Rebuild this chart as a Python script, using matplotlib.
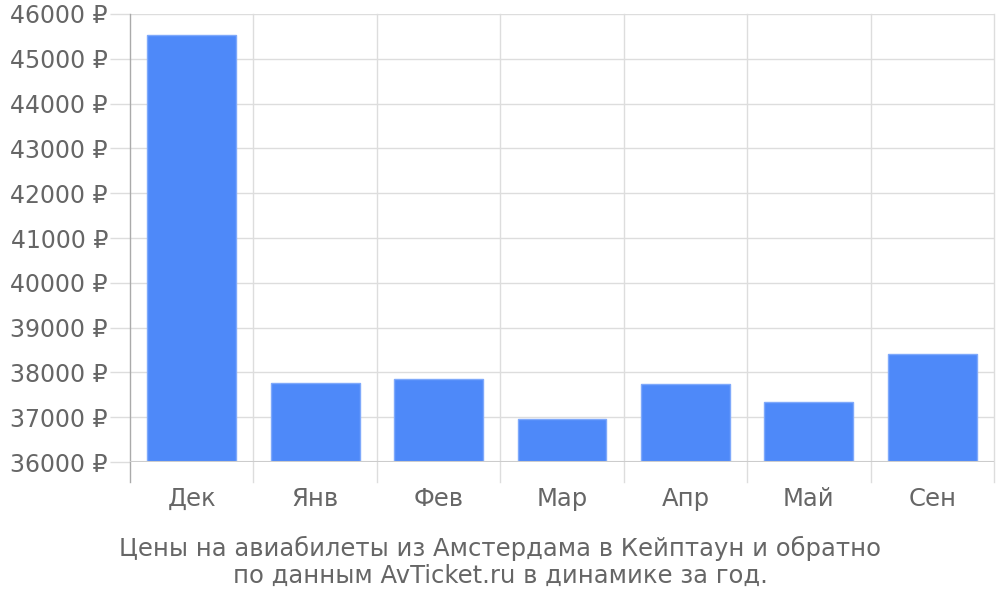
import matplotlib
matplotlib.use("Agg")
import matplotlib.pyplot as plt
import numpy as np

categories = ["Дек", "Янв", "Фев", "Мар", "Апр", "Май", "Сен"]
prices = [45530, 37763, 37858, 36956, 37740, 37330, 38412]
yticks = [36000, 37000, 38000, 39000, 40000, 41000, 42000, 43000, 44000, 45000, 46000]
title = "Цены на авиабилеты из Амстердама в Кейптаун и обратно\nпо данным AvTicket.ru в динамике за год."

plt.rcParams['font.family'] = ['DejaVu Sans']
fig = plt.figure(figsize=(10, 6), dpi=100)
ax = fig.add_axes([0.130, 1 - 462 / 600, 0.864, 448 / 600])

x = np.arange(len(categories))
ax.bar(x, prices, width=0.72, bottom=0, color="#4e89f9", edgecolor="#7fa9fb", linewidth=1, zorder=3)

ax.set_ylim(36000, 46000)
ax.set_xlim(-0.5, len(categories) - 0.5)
ax.set_yticks(yticks)
ax.set_yticklabels([f"{v} ₽" for v in yticks])
ax.set_xticks(x)
ax.set_xticklabels(categories)

ax.grid(axis="y", color="#dddddd", linewidth=1, zorder=0)
for b in np.arange(0.5, len(categories) - 0.5, 1.0):
    ax.axvline(b, ymin=-20 / 448, ymax=1, color="#dddddd", linewidth=1, clip_on=False, zorder=0)
ax.axvline(len(categories) - 0.5, ymin=-20 / 448, ymax=1, color="#dddddd", linewidth=1, clip_on=False, zorder=0)
ax.axvline(-0.5, ymin=-20 / 448, ymax=1, color="#aaaaaa", linewidth=1, clip_on=False, zorder=4)
ax.axhline(36000, color="#cccccc", linewidth=1.5, zorder=4)

for s in ax.spines.values():
    s.set_visible(False)

ax.tick_params(axis="y", length=14.4, color="#dddddd", width=1, pad=1.5, labelsize=17, labelcolor="#666666")
ax.tick_params(axis="x", length=0, pad=18, labelsize=17.5, labelcolor="#666666")

fig.text(0.5, 1 - 562 / 600, title, ha="center", va="center", fontsize=17.5, color="#666666", linespacing=1.15)

fig.savefig("out.png", dpi=100)
